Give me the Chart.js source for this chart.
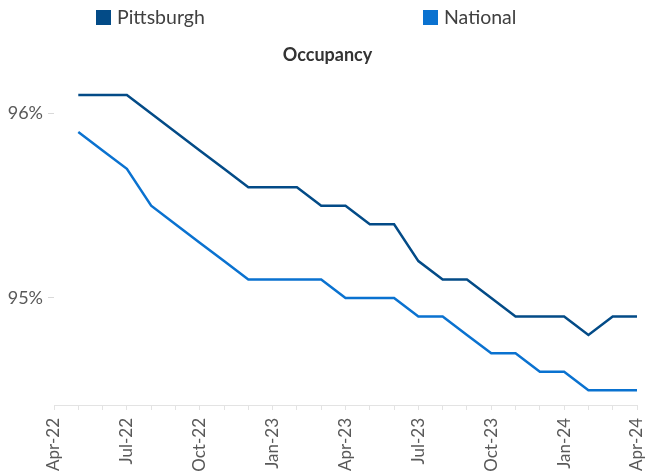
<!DOCTYPE html>
<html>
<head>
<meta charset="utf-8">
<script src="https://cdn.jsdelivr.net/npm/chart.js@4.4.1/dist/chart.umd.min.js"></script>
<style>
  html, body { margin: 0; padding: 0; background: #fff; }
  #wrap { position: relative; width: 647px; height: 475px; }
  .legenda { position: absolute; top: 5px; font-family: Lato, 'Open Sans', sans-serif; font-size: 19.5px; color: #404040; display: flex; align-items: center; line-height: 24px; }
  .legenda span { display: inline-block; width: 15px; height: 15px; margin-right: 6px; }
</style>
</head>
<body>
<div id="wrap">
  <div class="legenda" style="left:96px"><span id="cor-pit"></span>Pittsburgh</div>
  <div class="legenda" style="left:423px"><span id="cor-nat"></span>National</div>
  <canvas id="chart-ocupacao" width="647" height="475"></canvas>
</div>
<script>
// Meses (eixo x) - Apr-22 fica sem valor
const meses = ['Apr-22', 'May-22', 'Jun-22', 'Jul-22', 'Aug-22', 'Sep-22', 'Oct-22', 'Nov-22', 'Dec-22',
  'Jan-23', 'Feb-23', 'Mar-23', 'Apr-23', 'May-23', 'Jun-23', 'Jul-23', 'Aug-23', 'Sep-23', 'Oct-23',
  'Nov-23', 'Dec-23', 'Jan-24', 'Feb-24', 'Mar-24', 'Apr-24'];
const rotulosX = ['Apr-22', 'Jul-22', 'Oct-22', 'Jan-23', 'Apr-23', 'Jul-23', 'Oct-23', 'Jan-24', 'Apr-24'];
const rotulosY = [95, 96];

// Ocupação (%)
const pittsburgh = [null, 96.1, 96.1, 96.1, 96.0, 95.9, 95.8, 95.7, 95.6, 95.6, 95.6, 95.5, 95.5,
  95.4, 95.4, 95.2, 95.1, 95.1, 95.0, 94.9, 94.9, 94.9, 94.8, 94.9, 94.9];
const national = [null, 95.9, 95.8, 95.7, 95.5, 95.4, 95.3, 95.2, 95.1, 95.1, 95.1, 95.1, 95.0,
  95.0, 95.0, 94.9, 94.9, 94.8, 94.7, 94.7, 94.6, 94.6, 94.5, 94.5, 94.5];

const corPit = '#034b87';
const corNat = '#0a72d0';
document.getElementById('cor-pit').style.background = corPit;
document.getElementById('cor-nat').style.background = corNat;

const fonte = "Lato, 'Open Sans', sans-serif";
const cinza = '#595959';

const ctx = document.getElementById('chart-ocupacao').getContext('2d');
let ocupacaoChart = new Chart(ctx, {
    type: 'line',
    data: {
        labels: meses,
        datasets: [{
            label: 'Pittsburgh',
            data: pittsburgh,
            borderColor: corPit,
            backgroundColor: corPit,
            borderWidth: 2.5,
            pointRadius: 0,
            tension: 0
        }, {
            label: 'National',
            data: national,
            borderColor: corNat,
            backgroundColor: corNat,
            borderWidth: 2.5,
            pointRadius: 0,
            tension: 0
        }]
    },
    options: {
        responsive: false,
        animation: false,
        // left 8 para centrar o título em ~327
        layout: { padding: { top: 34, right: 0, left: 8, bottom: 0 } },
        plugins: {
            legend: { display: false },
            tooltip: { enabled: false },
            title: {
                display: true,
                text: 'Occupancy',
                color: '#333333',
                font: { family: fonte, size: 18, weight: 'bold', lineHeight: 1.2 },
                padding: { top: 10, bottom: 11 }
            }
        },
        scales: {
            x: {
                type: 'category',
                offset: false,
                grid: { drawOnChartArea: false, drawTicks: true, tickLength: 5, color: '#e3e3e3' },
                border: { display: true, color: '#e3e3e3' },
                ticks: {
                    autoSkip: false,
                    maxRotation: 90,
                    minRotation: 90,
                    padding: 8,
                    color: cinza,
                    font: { family: fonte, size: 17 },
                    callback: function (val, i) {
                        const m = this.getLabelForValue(val);
                        return rotulosX.includes(m) ? m : '';
                    }
                },
                afterFit: (scale) => {
                    scale.height = 70;
                    scale.paddingLeft = 0;
                    scale.paddingRight = 10;
                }
            },
            y: {
                min: 94.42,
                max: 96.2,
                grid: { drawOnChartArea: false, drawTicks: true, tickLength: 6, color: '#d9d9d9' },
                border: { display: false },
                ticks: {
                    padding: 5,
                    color: cinza,
                    font: { family: fonte, size: 18 },
                    callback: (v) => v + '%'
                },
                afterBuildTicks: (scale) => { scale.ticks = rotulosY.map(v => ({ value: v })); },
                afterFit: (scale) => { scale.width = 46; }
            }
        }
    }
});
</script>
</body>
</html>
